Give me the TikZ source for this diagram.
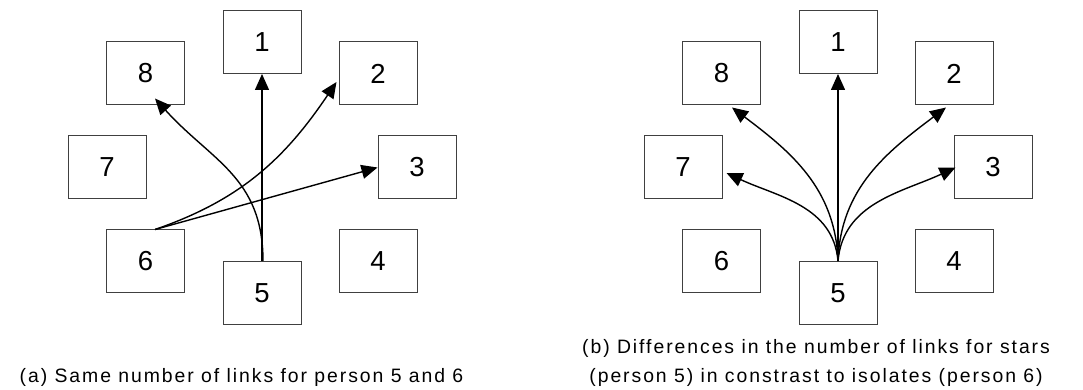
\documentclass[tikz,border=0pt]{standalone}
\usepackage{fontspec}
\setmainfont{Liberation Sans}
\newfontfamily\capfont[LetterSpace=10]{Liberation Sans}
\usetikzlibrary{arrows.meta}
\begin{document}
\begin{tikzpicture}[x=1pt,y=1pt,
  box/.style={draw=black!75, line width=1pt, minimum width=78pt, minimum height=63pt, inner sep=0pt, font=\fontsize{27.5}{27.5}\selectfont},
  link/.style={line width=1.4pt, -{Triangle[length=16pt,width=14pt]}},
  captext/.style={font=\capfont\fontsize{19.4}{29}\selectfont, align=center, inner sep=0pt}]
\useasboundingbox (0,0) rectangle (1083,390);
% left diagram
\node[box] (a1) at (262,348) {1};
\node[box] (a2) at (378,316.5) {2};
\node[box] (a3) at (417,222.5) {3};
\node[box] (a4) at (378,128.5) {4};
\node[box] (a5) at (262,97) {5};
\node[box] (a6) at (145.5,128.5) {6};
\node[box] (a7) at (107,222.5) {7};
\node[box] (a8) at (145.5,316.5) {8};
\draw[link] (a5.north) -- (a1.south);
\draw[link] ([xshift=1pt]a5.north) to[out=90,in=-48,looseness=1.1] ([xshift=9.5pt,yshift=7pt]a8.south);
\draw[link] ([xshift=9.5pt]a6.north) to[out=19,in=236] ([xshift=-2pt,yshift=-8.5pt]a2.west);
\draw[link] ([xshift=9.5pt]a6.north) -- (a3.west);
% right diagram
\node[box] (b1) at (838,348) {1};
\node[box] (b2) at (954,316.5) {2};
\node[box] (b3) at (993,222.5) {3};
\node[box] (b4) at (954,128.5) {4};
\node[box] (b5) at (838,97) {5};
\node[box] (b6) at (721.5,128.5) {6};
\node[box] (b7) at (683,222.5) {7};
\node[box] (b8) at (721.5,316.5) {8};
\draw[link] (b5.north) -- (b1.south);
\draw[link] (b5.north) to[out=92,in=-37] ([xshift=10.5pt,yshift=-2pt]b8.south);
\draw[link] (b5.north) to[out=95,in=-25] ([xshift=4pt,yshift=-5.5pt]b7.east);
\draw[link] (b5.north) to[out=88,in=217] ([xshift=-8pt,yshift=-2pt]b2.south);
\draw[link] (b5.north) to[out=85,in=205] ([xshift=2pt]b3.west);
% captions
\node[captext] (capa) at (241.5,13) {(a) Same number of links for person 5 and 6};
\node[captext] (capb) at (816,27.5) {(b) Differences in the number of links for stars\\(person 5) in constrast to isolates (person 6)};
\end{tikzpicture}
\end{document}
